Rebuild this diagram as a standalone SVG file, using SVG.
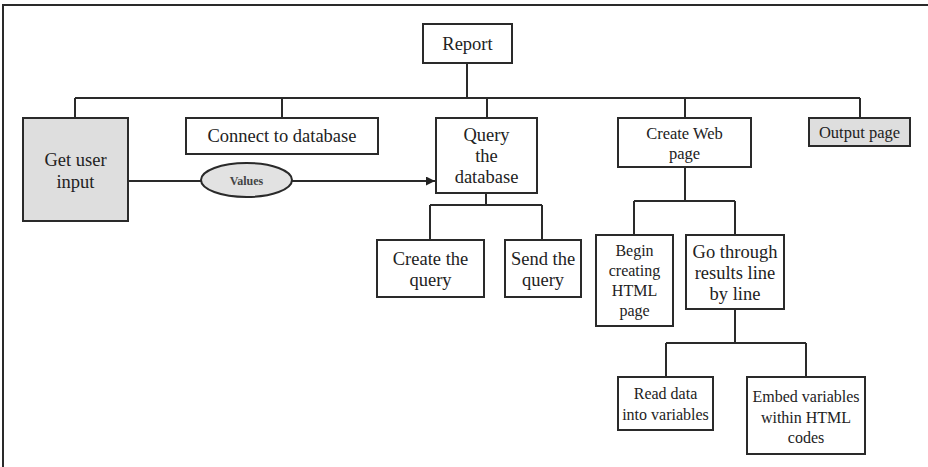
<svg xmlns="http://www.w3.org/2000/svg" width="928" height="467" viewBox="0 0 928 467">
  <defs>
    <marker id="arrow" viewBox="0 0 10 10" refX="10" refY="5" markerWidth="9" markerHeight="9" markerUnits="userSpaceOnUse" orient="auto">
      <path d="M0,0 L10,5 L0,10 z" fill="#222"/>
    </marker>
    <style>
      .box { fill: #fff; stroke: #2a2a2a; stroke-width: 2; }
      .shade { fill: #dedede; }
      .wire { fill: none; stroke: #2a2a2a; stroke-width: 2; }
      text { font-family: 'Liberation Serif', 'DejaVu Serif', serif; fill: #222; text-anchor: middle; }
      .big { font-size: 18.5px; }
      .mid { font-size: 16.5px; }
      .small { font-size: 16px; }
      .tiny { font-size: 12px; font-weight: bold; fill: #444; }
    </style>
  </defs>

  <rect width="928" height="467" fill="#fff"/>
  <!-- page frame (open on right and bottom) -->
  <path d="M3,467 L3,5 L928,5" fill="none" stroke="#2a2a2a" stroke-width="2"/>

  <g id="connectors">
    <!-- Report to first level -->
    <path class="wire" d="M467,63 V98 M75,98 H860 M75,98 V118 M282,98 V118 M487,98 V118 M685,98 V118 M860,98 V118"/>
    <!-- Query the database children -->
    <path class="wire" d="M486,193 V205 M430,205 H542 M430,205 V240 M542,205 V240"/>
    <!-- Create Web page children -->
    <path class="wire" d="M685,167 V201 M634,201 H735 M634,201 V235 M735,201 V235"/>
    <!-- Go through results children -->
    <path class="wire" d="M735,309 V343 M666,343 H806 M666,343 V377 M806,343 V377"/>
    <!-- data flow from user input -->
    <path class="wire" d="M128,181 H201"/>
    <path class="wire" d="M292,181 H435" marker-end="url(#arrow)"/>
  </g>

  <g id="report">
    <rect class="box" x="423" y="24" width="89" height="39"/>
    <text class="big" x="467.5" y="50" font-family="Liberation Serif">Report</text>
  </g>

  <g id="get-user-input">
    <rect class="box shade" x="23" y="118" width="105" height="103"/>
    <text class="big" x="75.5" y="166">Get user</text>
    <text class="big" x="75.5" y="188">input</text>
  </g>

  <g id="values">
    <ellipse cx="246.5" cy="180" rx="45.5" ry="17" fill="#e2e2e2" stroke="#2a2a2a" stroke-width="2"/>
    <text class="tiny" x="246.5" y="184.5">Values</text>
  </g>

  <g id="connect-db">
    <rect class="box" x="186" y="118" width="192" height="36"/>
    <text class="big" x="282" y="142">Connect to database</text>
  </g>

  <g id="query-db">
    <rect class="box" x="436" y="118" width="101" height="75"/>
    <text class="big" x="486.5" y="141">Query</text>
    <text class="big" x="486.5" y="162">the</text>
    <text class="big" x="486.5" y="183">database</text>
  </g>

  <g id="create-query">
    <rect class="box" x="377" y="240" width="107" height="57"/>
    <text class="big" x="430.5" y="265">Create the</text>
    <text class="big" x="430.5" y="286">query</text>
  </g>

  <g id="send-query">
    <rect class="box" x="505" y="240" width="76" height="57"/>
    <text class="big" x="543" y="265">Send the</text>
    <text class="big" x="543" y="286">query</text>
  </g>

  <g id="create-web-page">
    <rect class="box" x="618" y="118" width="133" height="49"/>
    <text class="mid" x="684.5" y="139">Create Web</text>
    <text class="mid" x="684.5" y="159">page</text>
  </g>

  <g id="output-page">
    <rect class="box shade" x="809" y="118" width="101" height="28"/>
    <text class="mid" x="859.5" y="138">Output page</text>
  </g>

  <g id="begin-html">
    <rect class="box" x="596" y="235" width="77" height="91"/>
    <text class="small" x="634.5" y="256">Begin</text>
    <text class="small" x="634.5" y="276">creating</text>
    <text class="small" x="634.5" y="296">HTML</text>
    <text class="small" x="634.5" y="316">page</text>
  </g>

  <g id="go-through">
    <rect class="box" x="686" y="235" width="98" height="74"/>
    <text class="big" x="735" y="258">Go through</text>
    <text class="big" x="735" y="279">results line</text>
    <text class="big" x="735" y="300">by line</text>
  </g>

  <g id="read-data">
    <rect class="box" x="618" y="377" width="95" height="53"/>
    <text class="small" x="665.5" y="399">Read data</text>
    <text class="small" x="665.5" y="420">into variables</text>
  </g>

  <g id="embed-vars">
    <rect class="box" x="747" y="377" width="118" height="77"/>
    <text class="small" x="806" y="402">Embed variables</text>
    <text class="small" x="806" y="423">within HTML</text>
    <text class="small" x="806" y="443">codes</text>
  </g>
</svg>
